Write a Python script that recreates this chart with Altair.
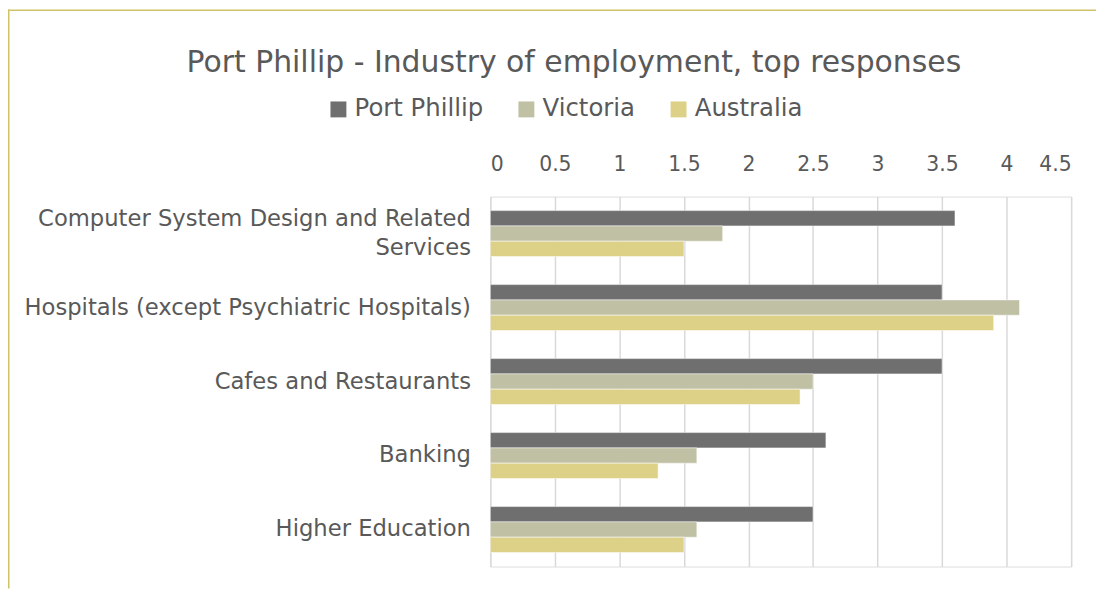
import altair as alt
import pandas as pd

categories = [
    "Computer System Design and Related Services",
    "Hospitals (except Psychiatric Hospitals)",
    "Cafes and Restaurants",
    "Banking",
    "Higher Education",
]
series = ["Port Phillip", "Victoria", "Australia"]
port_phillip = [3.6, 3.5, 3.5, 2.6, 2.5]
victoria = [1.8, 4.1, 2.5, 1.6, 1.6]
australia = [1.5, 3.9, 2.4, 1.3, 1.5]
x_ticks = [0, 0.5, 1, 1.5, 2, 2.5, 3, 3.5, 4, 4.5]
colors = ["#6F6F6F", "#C0C0A4", "#DCD186"]
title_text = "Port Phillip - Industry of employment, top responses"

rows = []
for vals, s in zip([port_phillip, victoria, australia], series):
    for c, v in zip(categories, vals):
        rows.append({"category": c, "series": s, "value": v})
df = pd.DataFrame(rows)

FONT = "DejaVu Sans"
TXT = "#595959"
W, H = 584, 372
PL, PT = 485, 188
TOTAL_W, TOTAL_H = 1094, 582
LONG = "Computer System Design and Related Services"

bars = alt.Chart(df).mark_bar(stroke="white", strokeWidth=0.5).encode(
    y=alt.Y("category:N", sort=categories, title=None,
            scale=alt.Scale(paddingInner=0.38, paddingOuter=0.19),
            axis=alt.Axis(domain=False, ticks=False, labelFontSize=22.8, labelFont=FONT,
                          labelColor=TXT, labelPadding=20, labelLimit=600,
                          labelLineHeight=29,
                          labelOffset={"condition": {"test": f"datum.value == '{LONG}'", "value": -14.5},
                                       "value": 0},
                          labelExpr=f"datum.label == '{LONG}' ? ['Computer System Design and Related', 'Services'] : datum.label")),
    yOffset=alt.YOffset("series:N", sort=series),
    x=alt.X("value:Q", title=None,
            scale=alt.Scale(domain=[0, 4.5], nice=False),
            axis=alt.Axis(orient="top", values=x_ticks, format="~g", domain=False, ticks=False,
                          labelFontSize=20.5, labelFont=FONT, labelColor=TXT, labelPadding=22,
                          grid=True, gridColor="#D9D9D9", gridWidth=1.5)),
    color=alt.Color("series:N", sort=series,
                    scale=alt.Scale(domain=series, range=colors),
                    legend=alt.Legend(title=None, orient="none", direction="horizontal",
                                      legendX=-165, legendY=-100, symbolType="square",
                                      symbolSize=256, symbolStrokeWidth=0, labelFontSize=24.5,
                                      labelFont=FONT, labelColor=TXT, columnPadding=31,
                                      labelOffset=4)),
)

one = pd.DataFrame({"a": [0]})
title_df = pd.DataFrame({"t": [title_text]})
title_mark = alt.Chart(title_df).mark_text(
    font=FONT, fontSize=30, color=TXT, align="center", baseline="alphabetic"
).encode(text="t:N", x=alt.value(84), y=alt.value(-125))

left_border = alt.Chart(one).mark_rule(color="#CFC36A", strokeWidth=1.5).encode(
    x=alt.value(-PL + 0.75), y=alt.value(-PT), y2=alt.value(TOTAL_H - PT))
top_border = alt.Chart(one).mark_rule(color="#CFC36A", strokeWidth=1.5).encode(
    x=alt.value(-PL), x2=alt.value(TOTAL_W - PL), y=alt.value(-PT + 0.75))

chart = alt.layer(bars, title_mark, left_border, top_border).properties(
    width=W, height=H,
    autosize=alt.AutoSizeParams(type="none"),
    padding={"left": PL, "top": PT, "right": TOTAL_W - PL - W, "bottom": TOTAL_H - PT - H},
).configure_view(strokeWidth=0, stroke="transparent").configure(background="white")

chart.save("out.html", embed_options={"renderer": "svg", "actions": False})
